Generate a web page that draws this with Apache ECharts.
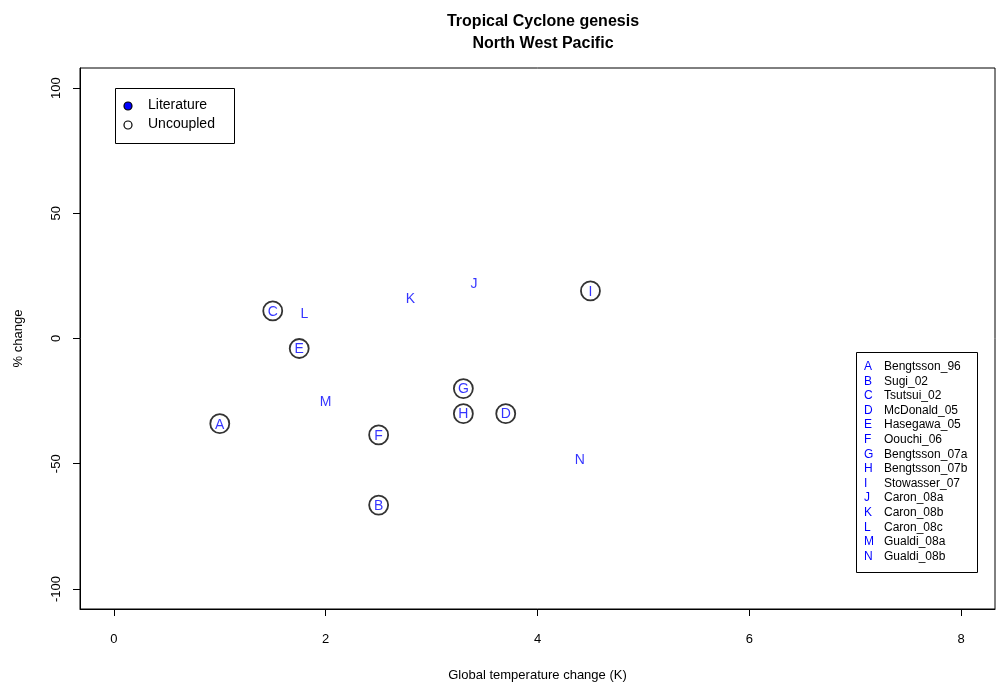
<!DOCTYPE html>
<html>
<head>
<meta charset="utf-8">
<script src="https://cdn.jsdelivr.net/npm/echarts@6/dist/echarts.min.js"></script>
<style>
  html, body { margin: 0; padding: 0; background: #fff; }
  #chart { width: 998px; height: 687px; }
</style>
</head>
<body>
<div id="chart"></div>
<script>
// Study codes, names and results (warming in K, % change in genesis)
const codes = ['A','B','C','D','E','F','G','H','I','J','K','L','M','N'];
const studies = ['Bengtsson_96','Sugi_02','Tsutsui_02','McDonald_05','Hasegawa_05','Oouchi_06',
  'Bengtsson_07a','Bengtsson_07b','Stowasser_07','Caron_08a','Caron_08b','Caron_08c','Gualdi_08a','Gualdi_08b'];
const warming = [1.0, 2.5, 1.5, 3.7, 1.75, 2.5, 3.3, 3.3, 4.5, 3.4, 2.8, 1.8, 2.0, 4.4];
const pctChange = [-34, -66.5, 11, -30, -4, -38.5, -20, -30, 19, 22, 16, 10, -25, -48];
const kind = ['U','U','U','U','U','U','U','U','U','L','L','L','L','L']; // U = uncoupled, L = literature

const xTicks = [0, 2, 4, 6, 8];
const yTicks = [-100, -50, 0, 50, 100];
const legendKinds = ['Literature', 'Uncoupled'];

const FONT = '"Liberation Sans", Arial, Helvetica, sans-serif';
const BLUE = '#0000ff';

const uncoupled = [], literature = [];
codes.forEach((c, i) => {
  const item = { value: [warming[i], pctChange[i]], name: c };
  (kind[i] === 'U' ? uncoupled : literature).push(item);
});

// legend graphics built from arrays
const graphics = [];
// top-left key box
graphics.push({ type: 'rect', left: 115, top: 88, shape: { width: 119, height: 55 },
  style: { fill: '#fff', stroke: '#000', lineWidth: 1 }, z: 100 });
legendKinds.forEach((k, i) => {
  const cy = 106 + i * 19;
  graphics.push({ type: 'circle', shape: { cx: 128, cy: cy, r: 4 },
    style: { fill: i === 0 ? BLUE : '#fff', stroke: '#000', lineWidth: 1.2 }, z: 101 });
  graphics.push({ type: 'text', left: 148, top: cy - 8,
    style: { text: k, font: '14px ' + FONT, fill: '#000' }, z: 101 });
});
// bottom-right code key
graphics.push({ type: 'rect', left: 856, top: 352, shape: { width: 121, height: 220 },
  style: { fill: '#fff', stroke: '#000', lineWidth: 1 }, z: 100 });
codes.forEach((c, i) => {
  const top = Math.round(367 + i * 14.6 - 6);
  graphics.push({ type: 'text', left: 864, top: top,
    style: { text: c, font: '12px ' + FONT, fill: BLUE }, z: 101 });
  graphics.push({ type: 'text', left: 884, top: top,
    style: { text: studies[i], font: '12px ' + FONT, fill: '#000' }, z: 101 });
});

const chart = echarts.init(document.getElementById('chart'), null, { renderer: 'canvas' });
chart.setOption({
  animation: false,
  backgroundColor: '#fff',
  title: {
    text: 'Tropical Cyclone genesis\nNorth West Pacific',
    left: 538, top: 6, textAlign: 'center',
    textStyle: { fontFamily: FONT, fontWeight: 'bold', fontSize: 16, lineHeight: 22, color: '#000' }
  },
  grid: { left: 80, right: 3, top: 68, bottom: 78, show: true, borderColor: '#000', borderWidth: 1, backgroundColor: 'transparent' },
  xAxis: {
    type: 'value', min: -0.32, max: 8.32,
    name: 'Global temperature change (K)', nameLocation: 'middle', nameGap: 60,
    nameTextStyle: { fontFamily: FONT, fontSize: 13, color: '#000' },
    axisLine: { show: true, onZero: false, lineStyle: { color: '#000' } },
    axisTick: { show: true, length: 7, customValues: xTicks, lineStyle: { color: '#000' } },
    axisLabel: { customValues: xTicks, margin: 24, fontFamily: FONT, fontSize: 13, color: '#000' },
    splitLine: { show: false }
  },
  yAxis: {
    type: 'value', min: -108, max: 108,
    name: '% change', nameLocation: 'middle', nameGap: 55, nameRotate: 90,
    nameTextStyle: { fontFamily: FONT, fontSize: 13, color: '#000' },
    axisLine: { show: true, onZero: false, lineStyle: { color: '#000' } },
    axisTick: { show: true, length: 7, customValues: yTicks, lineStyle: { color: '#000' } },
    axisLabel: { customValues: yTicks, rotate: 90, margin: 17, fontFamily: FONT, fontSize: 13, color: '#000',
      align: 'center', verticalAlign: 'bottom' },
    splitLine: { show: false }
  },
  series: [
    {
      name: 'Uncoupled', type: 'scatter', data: uncoupled,
      symbol: 'circle', symbolSize: 19,
      itemStyle: { color: 'rgba(255,255,255,0)', borderColor: '#000', borderWidth: 1.8 },
      label: { show: true, position: 'inside', offset: [0, 1], formatter: p => p.name,
        fontFamily: FONT, fontSize: 14, color: BLUE }
    },
    {
      name: 'Literature', type: 'scatter', data: literature,
      symbol: 'circle', symbolSize: 1,
      itemStyle: { color: 'rgba(0,0,0,0)' },
      label: { show: true, position: 'inside', offset: [0, 1], formatter: p => p.name,
        fontFamily: FONT, fontSize: 14, color: BLUE }
    }
  ],
  graphic: graphics
});
</script>
</body>
</html>
